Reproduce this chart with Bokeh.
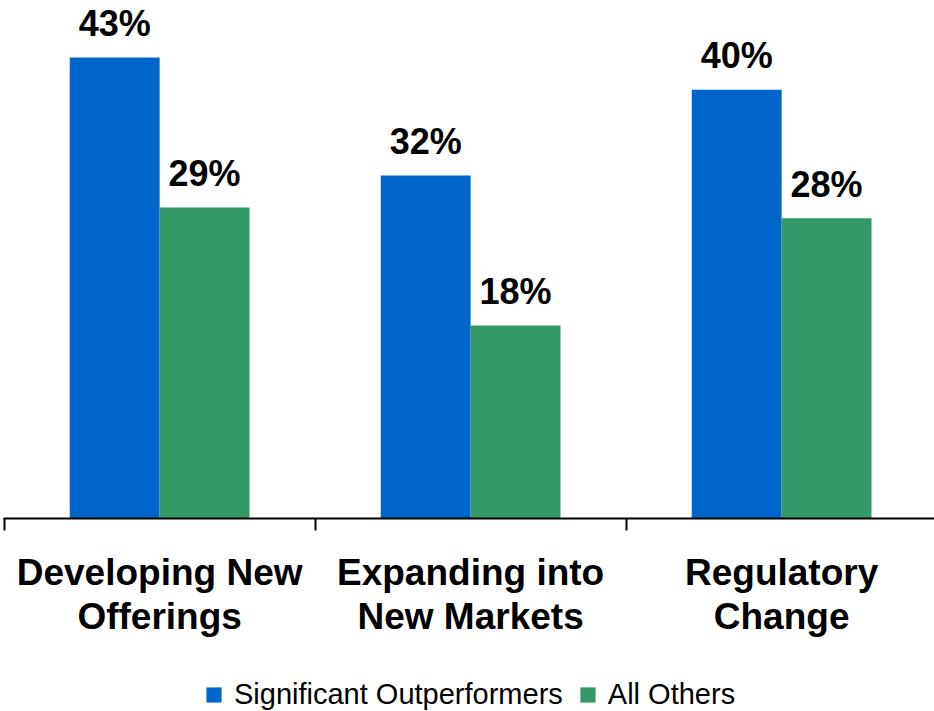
from bokeh.plotting import figure
from bokeh.layouts import column
from bokeh.models import Range1d, FixedTicker, Legend, LegendItem, LinearAxis, ColumnDataSource
from bokeh.embed import file_html
from bokeh.resources import INLINE
from bokeh.core.properties import value
import numpy as np

categories = ["Developing New\nOfferings", "Expanding into\nNew Markets", "Regulatory\nChange"]
series_names = ["Significant Outperformers", "All Others"]
outperformers = [43, 32, 40]
others = [29, 18, 28]
colors = ["#0066CC", "#339966"]

FONT = "Liberation Sans"
bar_w = 0.289
idx = np.arange(len(categories))
centers = idx + 0.5

src_a = ColumnDataSource(dict(x=centers - bar_w / 2, top=outperformers,
                              label=[f"{v}%" for v in outperformers]))
src_b = ColumnDataSource(dict(x=centers + bar_w / 2, top=others,
                              label=[f"{v}%" for v in others]))

p = figure(width=934, height=662, output_backend="svg", toolbar_location=None,
           x_range=Range1d(-0.002, -0.002 + 931 / 311), y_range=Range1d(0, 518 / 10.72),
           x_axis_location=None, y_axis_location=None,
           min_border_left=3, min_border_right=0, min_border_top=0, min_border_bottom=144)
p.outline_line_color = None
p.xgrid.visible = False
p.ygrid.visible = False
p.background_fill_color = "white"
p.border_fill_color = "white"

ra = p.vbar(x="x", top="top", width=bar_w, source=src_a, color=colors[0], line_color=None)
rb = p.vbar(x="x", top="top", width=bar_w, source=src_b, color=colors[1], line_color=None)

for s in (src_a, src_b):
    p.text(x="x", y="top", text="label", source=s, text_align="center",
           text_baseline="alphabetic", y_offset=-34, text_font=value(FONT),
           text_font_style="bold", text_font_size="36px", text_color="black")

ax = LinearAxis()
ax.ticker = FixedTicker(ticks=list(centers), minor_ticks=list(range(len(categories) + 1)))
ax.major_label_overrides = {float(c): lab for c, lab in zip(centers, categories)}
ax.major_tick_out = 0
ax.major_tick_in = 0
ax.minor_tick_out = 12
ax.minor_tick_in = 0
ax.minor_tick_line_color = "black"
ax.minor_tick_line_width = 2
ax.axis_line_color = "black"
ax.axis_line_width = 2
ax.major_label_standoff = 21
ax.major_label_text_font = FONT
ax.major_label_text_font_style = "bold"
ax.major_label_text_font_size = "37px"
ax.major_label_text_color = "black"
ax.major_label_text_line_height = 1.08
p.add_layout(ax, "below")

# legend strip below the chart
lg = figure(width=934, height=49, output_backend="svg", toolbar_location=None,
            x_range=Range1d(0, 1), y_range=Range1d(0, 1),
            x_axis_location=None, y_axis_location=None,
            min_border_left=0, min_border_right=0, min_border_top=0, min_border_bottom=0)
lg.outline_line_color = None
lg.xgrid.visible = False
lg.ygrid.visible = False
lg.background_fill_color = "white"
lg.border_fill_color = "white"
swatch = dict(x=[0.5], top=[0.0])  # zero-height bars: only the legend swatches show
la = lg.vbar(x="x", top="top", width=0.1, source=ColumnDataSource(swatch), color=colors[0], line_color=None)
lb = lg.vbar(x="x", top="top", width=0.1, source=ColumnDataSource(dict(swatch)), color=colors[1], line_color=None)
legend = Legend(items=[LegendItem(label=series_names[0], renderers=[la]),
                       LegendItem(label=series_names[1], renderers=[lb])],
                orientation="horizontal", location=(201, 0),
                glyph_width=19, glyph_height=19, label_height=30,
                label_standoff=11, spacing=15, padding=0, margin=0,
                border_line_alpha=0, background_fill_alpha=0,
                label_text_font=FONT, label_text_font_size="29px",
                label_text_color="black")
lg.add_layout(legend, "center")

layout = column(p, lg, spacing=0)
open("out.html", "w").write(file_html(layout, INLINE))
